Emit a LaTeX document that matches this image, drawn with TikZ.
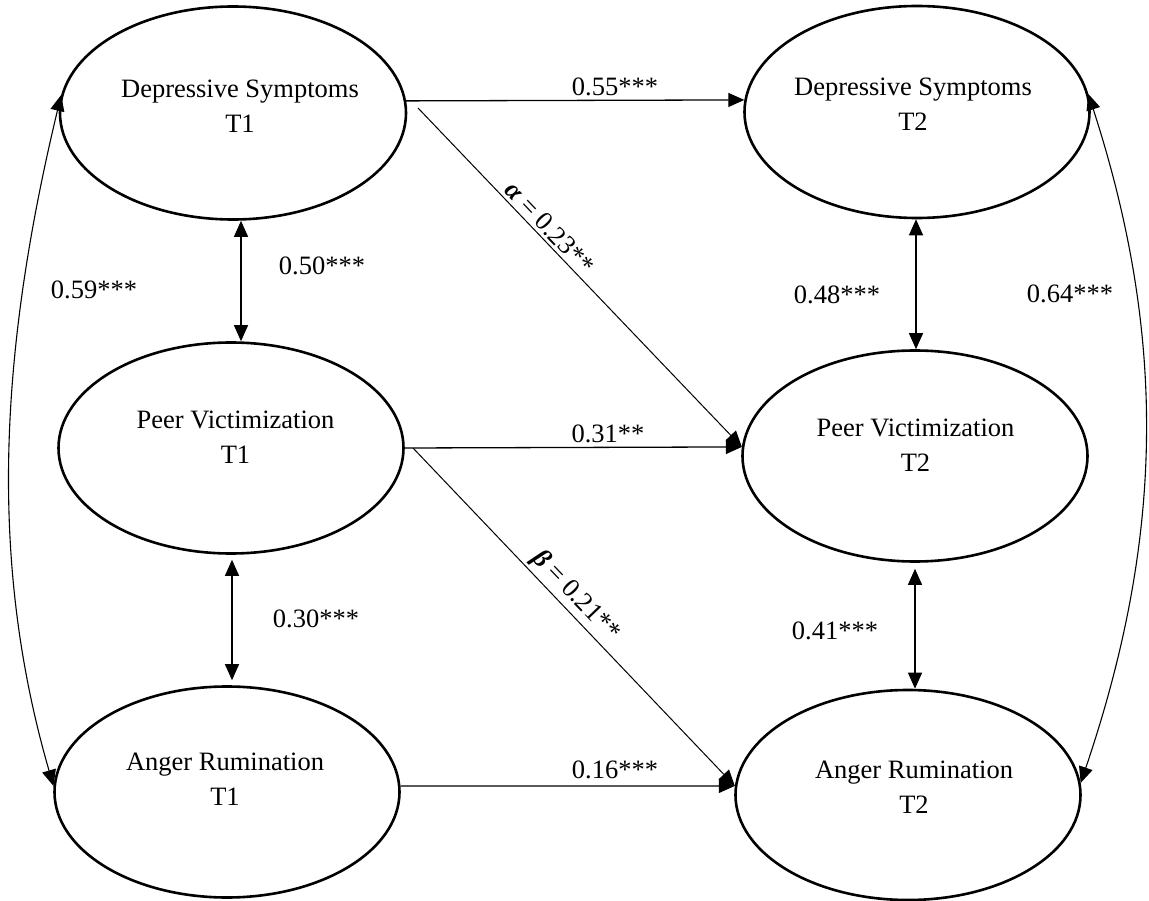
\documentclass[tikz,border=0pt]{standalone}
\usepackage{fontspec}
\setmainfont{Liberation Serif}
\usetikzlibrary{arrows.meta,shapes.geometric,calc}
\begin{document}
\begin{tikzpicture}[x=1pt,y=-1pt,
  >={Triangle[length=16pt,width=14pt]},
  lat/.style={draw, ellipse, line width=2.6pt, minimum width=345pt, minimum height=211pt, inner sep=0pt},
  txt/.style={font=\fontsize{26.5}{35}\selectfont, align=center, inner sep=0pt},
  lbl/.style={font=\fontsize{26.5}{30}\selectfont, inner sep=0pt},
  reg/.style={->, line width=1.3pt},
  diag/.style={->, line width=1.0pt},
  cov/.style={<->, line width=1.3pt},
  curv/.style={<->, line width=1.1pt}]
\useasboundingbox (0,0) rectangle (1149,901);

% latent variables
\node[lat, minimum width=346pt, minimum height=213pt] (ds1) at (233,113) {};
\node[lat] (pv1) at (231,448) {};
\node[lat] (ar1) at (227,792) {};
\node[lat, minimum height=212pt] (ds2) at (917,112) {};
\node[lat] (pv2) at (915,456) {};
\node[lat, minimum height=210pt] (ar2) at (908,795) {};

% texts
\node[txt] (ds1t) at (240,106) {Depressive Symptoms\\T1};
\node[txt] (pv1t) at (235.5,437) {Peer Victimization\\T1};
\node[txt] (ar1t) at (225,779) {Anger Rumination\\T1};
\node[txt] (ds2t) at (913,104) {Depressive Symptoms\\T2};
\node[txt] (pv2t) at (915.5,445.5) {Peer Victimization\\T2};
\node[txt] (ar2t) at (914,787) {Anger Rumination\\T2};

% stability paths
\draw[reg] (ds1.4) -- (ds2.176);
\draw[reg] (pv1.east) -- (pv2.177);
\draw[reg] (ar1.2) -- (ar2.177);

% cross-lagged paths
\coordinate (a0) at (418,108);
\coordinate (b0) at (413,448);
\draw[diag] (a0) -- (pv2.177)
  node[pos=0.379, sloped, anchor=south, lbl, inner sep=3pt] (la) {{\bfseries\itshape α} = 0.23**};
\draw[diag] (b0) -- (ar2.177)
  node[pos=0.47, sloped, anchor=south, lbl, inner sep=3pt] (lb) {{\bfseries\itshape β} = 0.21**};

% within-time covariances
\draw[cov] ([xshift=8]ds1.south) -- ([xshift=8]ds1.south |- pv1.north);
\draw[cov, shorten <=5pt, shorten >=5pt] ([xshift=1]pv1.south) -- ([xshift=1]pv1.south |- ar1.north);
\draw[cov] ([xshift=-1]ds2.south) -- ([xshift=-1]ds2.south |- pv2.north);
\draw[cov, shorten <=6pt] (pv2.south) -- (pv2.south |- ar2.north);

% curved covariances
\draw[curv] (ds1.174) .. controls (0,350) and (-12,560) .. (ar1.178);
\draw[curv] (ds2.6) .. controls (1168,340) and (1163,540) .. (ar2.4);

% labels
\node[lbl] (l55) at (615,87) {0.55***};
\node[lbl] (l31) at (608,434) {0.31**};
\node[lbl] (l16) at (615,770) {0.16***};
\node[lbl] (l50) at (322,266) {0.50***};
\node[lbl] (l30) at (316,619) {0.30***};
\node[lbl] (l59) at (94,290) {0.59***};
\node[lbl] (l48) at (837,295) {0.48***};
\node[lbl] (l64) at (1070,294) {0.64***};
\node[lbl] (l41) at (835,631) {0.41***};
\end{tikzpicture}
\end{document}
